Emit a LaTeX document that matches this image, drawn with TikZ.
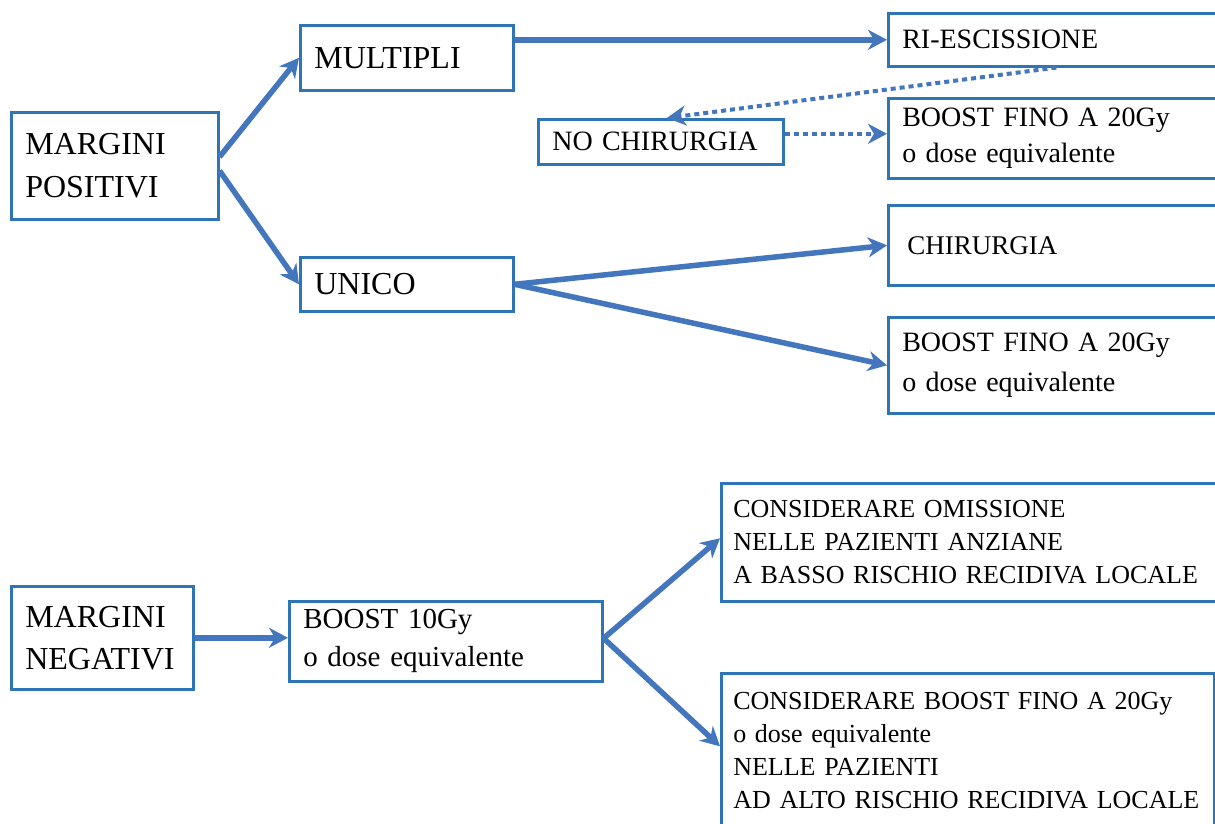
\documentclass[tikz,border=0pt]{standalone}
\usepackage{fontspec}
\setmainfont{Liberation Serif}
\usetikzlibrary{arrows.meta}
\definecolor{boxblue}{RGB}{46,117,182}
\definecolor{arrowblue}{RGB}{68,118,190}
\tikzset{
  box/.style={draw=boxblue, line width=2.6pt, rectangle, anchor=north west,
    inner xsep=14pt, inner ysep=0pt, align=left, text=black},
  link/.style={draw=arrowblue, line width=5.5pt,
    -{Stealth[length=19pt,width=20pt,inset=6pt]}},
  dotlink/.style={link, line width=4pt, dash pattern=on 5pt off 4pt}
}
\newcommand{\fs}[2]{\fontsize{#1pt}{#2pt}\selectfont}
\begin{document}
\begin{tikzpicture}[x=1pt,y=-1pt]
  \path[use as bounding box, fill=white] (0,0) rectangle (1215,824);
  \clip (0,0) rectangle (1215,824);

  % positive margins branch
  \node[box, minimum width=207pt, minimum height=107pt, text width=179pt,
        font=\fs{32}{43}] (mp) at (10,111) {MARGINI\\POSITIVI};
  \node[box, minimum width=213pt, minimum height=65pt, text width=185pt,
        font=\fs{32}{40}] (mul) at (299,24) {MULTIPLI};
  \node[box, minimum width=213pt, minimum height=54pt, text width=185pt,
        font=\fs{32}{40}] (uni) at (299,256) {UNICO};

  \node[box, minimum width=360pt, minimum height=53pt, text width=332pt,
        font=\fs{28}{36}] (ries) at (887,12) {RI-ESCISSIONE};
  \node[box, minimum width=245pt, minimum height=45pt, text width=217pt,
        font=\fs{28}{36}] (noch) at (537,118) {NO CHIRURGIA};
  \node[box, minimum width=360pt, minimum height=80pt, text width=332pt,
        font=\fs{28}{36}] (boosta) at (887,97) {BOOST FINO A 20Gy\\o dose equivalente};
  \node[box, minimum width=360pt, minimum height=80pt, text width=327pt,
        inner xsep=19pt, font=\fs{27}{36}] (chir) at (887,204) {CHIRURGIA};
  \node[box, minimum width=360pt, minimum height=96pt, text width=332pt,
        font=\fs{28}{40}] (boostb) at (887,316) {BOOST FINO A 20Gy\\o dose equivalente};

  % negative margins branch
  \node[box, minimum width=182pt, minimum height=103pt, text width=154pt,
        font=\fs{32}{42}] (mn) at (10,585) {MARGINI\\NEGATIVI};
  \node[box, minimum width=313pt, minimum height=80pt, text width=285pt,
        font=\fs{29}{38}] (bten) at (288,600) {BOOST 10Gy\\o dose equivalente};
  \node[box, minimum width=520pt, minimum height=118pt, text width=496pt,
        inner xsep=12pt, font=\fs{26}{33}] (omis) at (720,482)
        {CONSIDERARE OMISSIONE\\NELLE PAZIENTI ANZIANE\\A BASSO RISCHIO RECIDIVA LOCALE};
  \node[box, minimum width=493pt, minimum height=154pt, text width=469pt,
        inner xsep=12pt, font=\fs{26}{33}] (boostc) at (720,672)
        {CONSIDERARE BOOST FINO A 20Gy\\o dose equivalente\\NELLE PAZIENTI\\AD ALTO RISCHIO RECIDIVA LOCALE};

  % connectors
  \draw[link] ([yshift=9pt]mp.east) -- (mul.west);
  \draw[link] ([yshift=-5pt]mp.east) -- (uni.west);
  \draw[link] (mul.east |- ries.west) -- (ries.west);
  \draw[dotlink] ([xshift=-12pt]ries.south) -- ([xshift=6pt]noch.north);
  \coordinate (nce) at ([yshift=8pt]noch.east);
  \draw[dotlink] (nce) -- (nce -| boosta.west);
  \draw[link] (uni.east) -- (chir.west);
  \draw[link] (uni.east) -- (boostb.west);

  \draw[link] (mn.east) -- (mn.east -| bten.west);
  \draw[link] ([yshift=3pt]bten.east) -- ([yshift=4pt]omis.west);
  \draw[link] ([yshift=3pt]bten.east) -- ([yshift=4pt]boostc.west);
\end{tikzpicture}
\end{document}
